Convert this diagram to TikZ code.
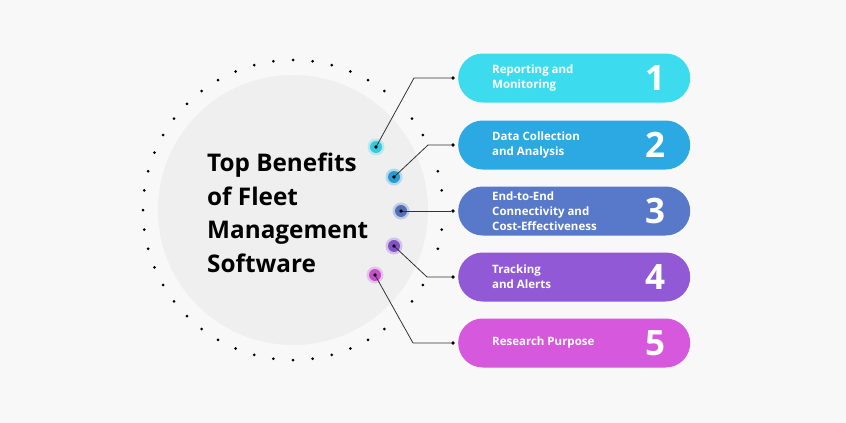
\documentclass[tikz,border=0pt]{standalone}
\usepackage{fontspec}
\setmainfont{Open Sans}
\usetikzlibrary{positioning}
\definecolor{bgcol}{HTML}{F8F8F8}
\definecolor{disccol}{HTML}{EFEFF0}
\definecolor{pillA}{HTML}{3CDCEE}
\definecolor{pillB}{HTML}{2CA9E3}
\definecolor{pillC}{HTML}{5879C9}
\definecolor{pillD}{HTML}{9159D6}
\definecolor{pillE}{HTML}{D558DD}
\definecolor{linecol}{HTML}{333333}
\tikzset{
  pill/.style={rectangle, rounded corners=24.5pt, minimum width=232pt,
    minimum height=49pt, inner sep=0pt, fill=#1, anchor=west},
  pilltext/.style={anchor=west, align=left, text=white, inner sep=0pt,
    font=\bfseries\fontsize{11.5}{15}\selectfont},
  pillnum/.style={text=white, inner sep=0pt, font=\bfseries\fontsize{35}{35}\selectfont},
  marker/.style={circle, fill=#1, minimum size=12pt, inner sep=0pt},
  glow/.style={circle, fill=#1, opacity=.3, minimum size=17pt, inner sep=0pt},
  pin/.style={circle, fill=black, minimum size=3.6pt, inner sep=0pt},
  conn/.style={draw=linecol, line width=.8pt},
  ring/.style={fill=black},
}
\begin{document}
\begin{tikzpicture}[x=1pt, y=-1pt]
  \fill[bgcol] (0, 0) rectangle (846, 423) ;
  \useasboundingbox (0, 0) rectangle (846, 423) ;
  % centre disc and dotted ring
  \fill[disccol] (293, 210) circle (135) ;
  \foreach \a in {52.5, 60, ..., 307.5}
    \fill[ring] (293, 210) ++ (\a:150) circle (1.5) ;
  \foreach \a in {7.5, 15, 30, 37.5, 322.5, 330, 345, 352.5}
    \fill[ring] (293, 210) ++ (\a:150) circle (1.5) ;
  \node[anchor=west, align=left, inner sep=0pt,
    font=\bfseries\fontsize{24.3}{33.5}\selectfont] (title) at (207, 213)
    {Top Benefits\\of Fleet\\Management\\Software} ;
  % pills
  \foreach \i/\yy/\col/\txt in {1/78/pillA/{Reporting and\\Monitoring},
      2/145/pillB/{Data Collection\\and Analysis},
      3/211/pillC/{End-to-End\\Connectivity and\\Cost-Effectiveness},
      4/277/pillD/{Tracking\\and Alerts},
      5/343/pillE/{Research Purpose}} {
    \node[pill=\col] (p\i) at (458, \yy) {} ;
    \node[pilltext] (t\i) at (492, \yy) {\txt} ;
    \node[pillnum] (n\i) at (655, \yy) {\i} ;
    \node[pin] (e\i) at (453, \yy) {} ;
  }
  % markers
  \foreach \i/\xx/\yy/\col in {1/376/147/pillA, 2/394/177/pillB,
      3/401/211/pillC, 4/394/246/pillD, 5/375/275/pillE} {
    \node[glow=\col] at (\xx, \yy) {} ;
    \node[marker=\col!92!black] (m\i) at (\xx, \yy) {} ;
  }
  \coordinate (b1) at (414, 78) ;
  \coordinate (b2) at (428, 145) ;
  \coordinate (b4) at (427, 277) ;
  \coordinate (b5) at (413, 343) ;
  \draw[conn] (m1.center) -- (b1) -- (e1) ;
  \draw[conn] (m2.center) -- (b2) -- (e2) ;
  \draw[conn] (m3.center) -- (e3) ;
  \draw[conn] (m4.center) -- (b4) -- (e4) ;
  \draw[conn] (m5.center) -- (b5) -- (e5) ;
  \foreach \i in {1, ..., 5}
    \node[pin] at (m\i) {} ;
\end{tikzpicture}
\end{document}
